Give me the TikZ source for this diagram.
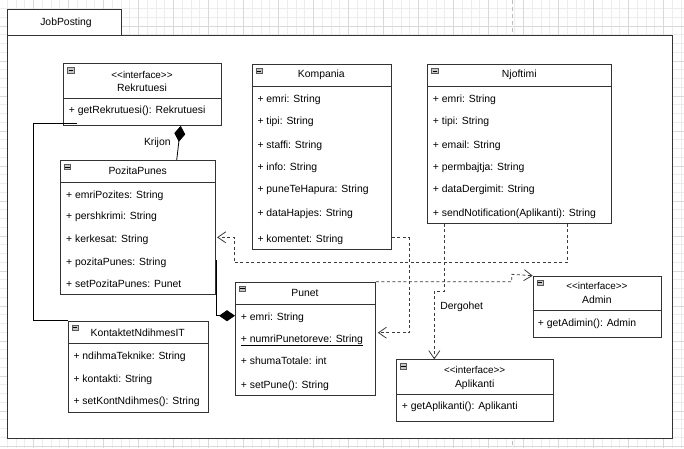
\documentclass[tikz,border=0pt]{standalone}
\usepackage{fontspec}
\setmainfont{Liberation Sans}
\usetikzlibrary{arrows.meta,calc}
\definecolor{lc}{HTML}{333333}
\definecolor{dc}{HTML}{3C3C3C}
\definecolor{gminor}{HTML}{EDEDED}
\definecolor{gmajor}{HTML}{D9D9D9}
\definecolor{pagebrk}{HTML}{BDBDBD}
\tikzset{
  classbox/.style={draw=lc, fill=white, line width=0.8pt, inner sep=0pt, anchor=north west},
  sepline/.style={draw=lc, line width=0.8pt},
  txt/.style={anchor=base west, inner sep=0pt, font=\fontsize{10.4}{12}\selectfont},
  ttl/.style={anchor=base, inner sep=0pt, font=\fontsize{10.4}{12}\selectfont},
  stereo/.style={anchor=base, inner sep=0pt, font=\fontsize{9.9}{11}\selectfont},
  lbl/.style={inner sep=0pt, font=\fontsize{10.4}{12}\selectfont},
  iconbox/.style={draw=gray!70!black, fill=gray!45, line width=0.4pt},
  dep/.style={draw=dc, line width=0.8pt, dash pattern=on 3pt off 2.5pt, -{Straight Barb[length=8pt,width=11pt,line width=0.8pt]}},
  assoc/.style={draw=black, line width=0.8pt},
  compline/.style={draw=black, line width=0.8pt, -{Diamond[length=16pt,width=11pt,fill=black]}},
  minorg/.style={draw=gminor, line width=0.6pt},
  majorg/.style={draw=gmajor, line width=0.8pt},
}
\newcommand\minusicon[1]{%
  \draw[iconbox] ($(#1.north west)+(4.3,4.3)$) rectangle ++(6.2,5.2);
  \draw[black, line width=0.6pt] ($(#1.north west)+(5.3,6.9)$) -- ++(4.2,0);}
\begin{document}
\begin{tikzpicture}[x=1pt,y=-1pt]
\useasboundingbox (0,0) rectangle (684,448);
\fill[white] (0,0) rectangle (684,448);
% grid
\foreach \i in {0,...,79} {\draw[minorg] ({-1.7+8.75*\i},0) -- ({-1.7+8.75*\i},448);}
\foreach \i in {0,...,52} {\draw[minorg] (0,{-0.25+8.75*\i}) -- (684,{-0.25+8.75*\i});}
\foreach \i in {0,...,20} {\draw[majorg] ({-1.7+35*\i},0) -- ({-1.7+35*\i},448);}
\foreach \i in {0,...,13} {\draw[majorg] (0,{-9+35*\i}) -- (684,{-9+35*\i});}
\draw[pagebrk, line width=0.8pt, dash pattern=on 4pt off 3pt] (512.7,0) -- (512.7,448);
% package
\node[classbox, draw=lc, minimum width=113.7pt, minimum height=25.7pt] (tab) at (7.3,9.3) {};
\node[lbl] (pkgname) at (66,22.7) {JobPosting};
\node[classbox, draw=lc, minimum width=664.7pt, minimum height=402.7pt] (frame) at (7.3,35) {};

% Rekrutuesi
\node[classbox, minimum width=157.4pt, minimum height=61.7pt] (rek) at (63.3,63.3) {};
\draw[sepline] (rek.west |- 0,98.7) -- (rek.east |- 0,98.7);
\minusicon{rek}
\node[stereo] (rekS) at (142,78.5) {<\kern0pt<interface>\kern0pt>};
\node[ttl] (rekT) at (142,91) {Rekrutuesi};
\node[txt] (rek1) at (68.7,113.7) {+ getRekrutuesi(): Rekrutuesi};

% PozitaPunes
\node[classbox, minimum width=155.3pt, minimum height=134.3pt] (poz) at (60,160) {};
\draw[sepline] (poz.west |- 0,182.3) -- (poz.east |- 0,182.3);
\minusicon{poz}
\node[ttl] (pozT) at (137.7,174.7) {PozitaPunes};
\node[txt] (poz1) at (66,198) {+ emriPozites: String};
\node[txt] (poz2) at (66,219) {+ pershkrimi: String};
\node[txt] (poz3) at (66,242) {+ kerkesat: String};
\node[txt] (poz4) at (66,265.4) {+ pozitaPunes: String};
\node[txt] (poz5) at (66,287.7) {+ setPozitaPunes: Punet};

% Kompania
\node[classbox, minimum width=139.3pt, minimum height=185pt] (komp) at (251.7,64) {};
\draw[sepline] (komp.west |- 0,86) -- (komp.east |- 0,86);
\minusicon{komp}
\node[ttl] (kompT) at (321.3,77.7) {Kompania};
\node[txt] (komp1) at (257.3,102) {+ emri: String};
\node[txt] (komp2) at (257.3,124.7) {+ tipi: String};
\node[txt] (komp3) at (257.3,148) {+ staffi: String};
\node[txt] (komp4) at (257.3,170) {+ info: String};
\node[txt] (komp5) at (257.3,192.7) {+ puneTeHapura: String};
\node[txt] (komp6) at (257.3,216) {+ dataHapjes: String};
\node[txt] (komp7) at (257.3,242) {+ komentet: String};

% Njoftimi
\node[classbox, minimum width=184pt, minimum height=158.7pt] (njof) at (427.3,64) {};
\draw[sepline] (njof.west |- 0,86) -- (njof.east |- 0,86);
\minusicon{njof}
\node[ttl] (njofT) at (519.3,77.7) {Njoftimi};
\node[txt] (njof1) at (432.7,102) {+ emri: String};
\node[txt] (njof2) at (432.7,124.7) {+ tipi: String};
\node[txt] (njof3) at (432.7,148) {+ email: String};
\node[txt] (njof4) at (432.7,170) {+ permbajtja: String};
\node[txt] (njof5) at (432.7,192.7) {+ dataDergimit: String};
\node[txt] (njof6) at (432.7,216) {+ sendNotification(Aplikanti): String};

% Punet
\node[classbox, minimum width=140pt, minimum height=113.3pt] (pun) at (235,281.7) {};
\draw[sepline] (pun.west |- 0,304.3) -- (pun.east |- 0,304.3);
\minusicon{pun}
\node[ttl] (punT) at (305,296.4) {Punet};
\node[txt] (pun1) at (240.7,320.4) {+ emri: String};
\node[txt] (pun2) at (240.7,342) {\underline{+ numriPunetoreve: String}};
\node[txt] (pun3) at (240.7,364.7) {+ shumaTotale: int};
\node[txt] (pun4) at (240.7,388) {+ setPune(): String};

% KontaktetNdihmesIT
\node[classbox, minimum width=140pt, minimum height=91.3pt] (kont) at (67.7,320.7) {};
\draw[sepline] (kont.west |- 0,343.3) -- (kont.east |- 0,343.3);
\minusicon{kont}
\node[ttl] (kontT) at (137.7,336) {KontaktetNdihmesIT};
\node[txt] (kont1) at (73.3,359) {+ ndihmaTeknike: String};
\node[txt] (kont2) at (73.3,382) {+ kontakti: String};
\node[txt] (kont3) at (73.3,404.7) {+ setKontNdihmes(): String};

% Admin
\node[classbox, minimum width=128.3pt, minimum height=61pt] (adm) at (532.7,275.7) {};
\draw[sepline] (adm.west |- 0,310.7) -- (adm.east |- 0,310.7);
\minusicon{adm}
\node[stereo] (admS) at (596.8,289.9) {<\kern0pt<interface>\kern0pt>};
\node[ttl] (admT) at (596.8,303) {Admin};
\node[txt] (adm1) at (537.7,326) {+ getAdimin(): Admin};

% Aplikanti
\node[classbox, minimum width=157.3pt, minimum height=61.4pt] (apl) at (396,359.3) {};
\draw[sepline] (apl.west |- 0,394.7) -- (apl.east |- 0,394.7);
\minusicon{apl}
\node[stereo] (aplS) at (474.7,373.9) {<\kern0pt<interface>\kern0pt>};
\node[ttl] (aplT) at (474.7,387) {Aplikanti};
\node[txt] (apl1) at (401.7,409.7) {+ getAplikanti(): Aplikanti};

% connectors
\coordinate (a0) at (77.3,123);
\draw[assoc] (a0) -- (33.3,123) -- (33.3,320.7) -- (kont.north west);
\draw[compline] (poz.north -| 176.7,0) -- (rek.south -| 180.7,0);
\node[lbl] (krijon) at (157.3,143.3) {Krijon};
\draw[compline] (poz.east |- 0,260.7) -- (216.7,260.7) -- (216.7,315.7) -- (pun.west |- 0,315.7);
\draw[dep, shorten >=2pt] (komp.east |- 0,237.7) -- (409,237.7) -- (409,332.7) -- (pun.east |- 0,332.7);
\draw[dep, shorten >=1pt] (njof.south -| 567,0) -- (567,262.7) -- (234.3,262.7) -- (234.3,237.3) -- (poz.east |- 0,237.3);
\draw[dep] (njof.south -| 444,0) -- (444,291) -- (434.3,291) -- (apl.north -| 434.3,0);
\node[lbl] (dergohet) at (461.7,307.3) {Dergohet};
\draw[dep] (pun.north east) -- (511.7,281.7) -- (511.7,274.3) -- (adm.north west);
\end{tikzpicture}
\end{document}
